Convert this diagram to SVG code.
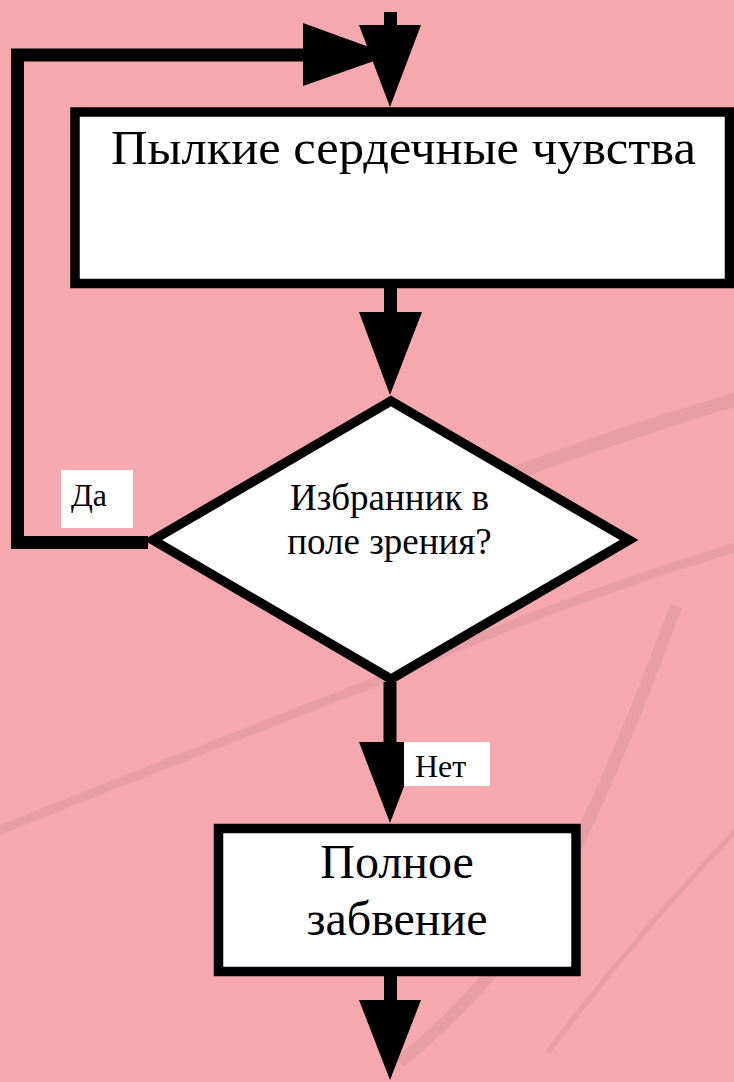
<svg xmlns="http://www.w3.org/2000/svg" width="734" height="1082" viewBox="0 0 734 1082">
  <style>
    .bg-swoosh { fill: none; stroke: #D9959B; stroke-linecap: butt; opacity: 0.5; }
    .node { fill: #FFFFFF; stroke: #000000; stroke-width: 9.5; }
    .line { fill: none; stroke: #000000; stroke-width: 13; stroke-linecap: butt; stroke-linejoin: miter; }
    .head { fill: #000000; stroke: none; }
    .lbl-bg { fill: #FFFFFF; stroke: none; }
    text { font-family: "Liberation Serif", "Times New Roman", serif; fill: #000000; }
  </style>
  <rect x="0" y="0" width="734" height="1082" fill="#F5A8AE"/>
  <g id="background">
    <path class="bg-swoosh" d="M -5 832 Q 200 750 380 680 Q 560 600 740 546" stroke-width="9"/>
    <path class="bg-swoosh" d="M 470 490 Q 600 440 740 398" stroke-width="14"/>
    <path class="bg-swoosh" d="M 676 606 Q 620 760 560 880 Q 490 990 400 1062" stroke-width="12"/>
    <path class="bg-swoosh" d="M 740 826 Q 640 930 548 1052" stroke-width="5" opacity="0.3"/>
  </g>
  <g id="connectors">
    <line class="line" x1="390.5" y1="12" x2="390.5" y2="26"/>
    <path class="line" d="M 148 542.5 H 17.5 V 55 H 304"/>
    <polygon class="head" points="303,23 303,86 391,55"/>
    <polygon class="head" points="359,25 421,25 390,107"/>
    <line class="line" x1="390.5" y1="286" x2="390.5" y2="313"/>
    <polygon class="head" points="359,312 422,312 390,395"/>
    <line class="line" x1="390" y1="682" x2="390" y2="743"/>
    <polygon class="head" points="359,742 421,742 390,823"/>
    <line class="line" x1="390.5" y1="974" x2="390.5" y2="1001"/>
    <polygon class="head" points="359,1000 421,1000 390,1080"/>
  </g>
  <g id="label-da">
    <rect class="lbl-bg" x="61" y="470" width="72" height="58"/>
    <text x="71" y="506" font-size="32">Да</text>
  </g>
  <g id="label-net">
    <rect class="lbl-bg" x="404" y="742" width="86" height="44"/>
    <text x="415" y="777" font-size="32">Нет</text>
  </g>
  <g id="node-feelings">
    <rect class="node" x="75" y="112" width="654.5" height="171.5"/>
    <text x="111" y="164" font-size="49" textLength="585" lengthAdjust="spacingAndGlyphs">Пылкие сердечные чувства</text>
  </g>
  <g id="node-decision">
    <path class="node" d="M 391 401 L 629 540 L 391 679 L 153 540 Z" stroke-width="10"/>
    <text x="389.5" y="510" font-size="37" text-anchor="middle">Избранник в</text>
    <text x="389.5" y="554" font-size="37" text-anchor="middle">поле зрения?</text>
  </g>
  <g id="node-oblivion">
    <rect class="node" x="218.5" y="828.5" width="357.5" height="143"/>
    <text x="397" y="878" font-size="48" text-anchor="middle">Полное</text>
    <text x="397" y="935" font-size="48" text-anchor="middle">забвение</text>
  </g>
</svg>
